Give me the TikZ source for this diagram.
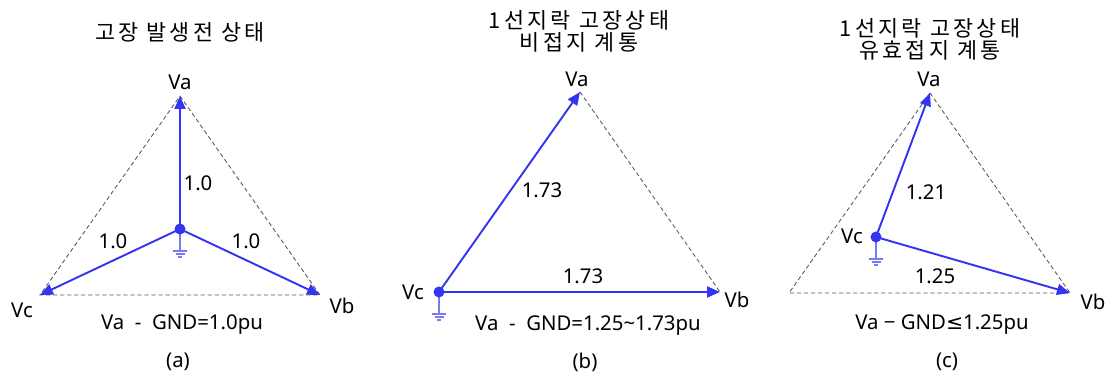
\documentclass[tikz,border=0pt]{standalone}
\usepackage{fontspec}
\setmainfont{Noto Sans}
\newfontfamily\kofont[LetterSpace=15]{Noto Sans CJK KR}
\newfontfamily\symfont{DejaVu Sans}
\usetikzlibrary{arrows.meta}

\begin{document}
\begin{tikzpicture}[
    x=0.02cm, y=-0.02cm,
    every node/.style={font=\fontsize{11.6}{13}\selectfont, inner sep=0pt},
    phasor/.style={phblue, line width=1.1pt, -{Triangle[length=2.6mm, width=2.2mm]}},
    rim/.style={rimgray, line width=0.5pt, dash pattern=on 2.4pt off 1.6pt},
    heading/.style={font=\kofont\fontsize{12.4}{12.6}\selectfont, align=center},
  ]
    \definecolor{phblue}{HTML}{3535F0}
    \definecolor{gndblue}{HTML}{7A7AF5}
    \definecolor{rimgray}{HTML}{5A5A5A}

    \useasboundingbox (0,0) rectangle (1109,377);

    \newcommand{\groundsym}[1]{%
      \draw[gndblue, line width=0.6pt] (#1) -- ++(0,22) coordinate (#1g);
      \draw[gndblue, line width=0.6pt] (#1g) ++(-7,0) -- ++(14,0)
        ++(-11.5,3) -- ++(9,0) ++(-6.5,3) -- ++(4,0);
      \fill[phblue] (#1) circle[radius=1.1mm];
    }

    % ---- panel (a): before fault ----
    \coordinate (aVa) at (180,96);
    \coordinate (aVb) at (320,295);
    \coordinate (aVc) at (40,295);
    \coordinate (aN) at (180,229);
    \node[heading] (atitle) at (180,32) {고장 발생전 상태};
    \draw[rim] (aVa) -- (aVb) -- (aVc) -- cycle;
    \groundsym{aN}
    \draw[phasor] (aN) -- (aVa);
    \draw[phasor] (aN) -- (aVb);
    \draw[phasor] (aN) -- (aVc);
    \fill[phblue] (aN) circle[radius=1mm];
    \node (aLa) at (180,82) {Va};
    \node (aLb) at (342,306) {Vb};
    \node (aLc) at (22,310) {Vc};
    \node (aMa) at (198,183) {1.0};
    \node (aMc) at (113,241) {1.0};
    \node (aMb) at (246,241) {1.0};
    \node (agnd) at (182,325) {Va\ \ -\ \ GND=1.0pu};
    \node (acap) at (178,362) {(a)};

    % ---- panel (b): ungrounded system ----
    \coordinate (bVa) at (580,92);
    \coordinate (bVb) at (720,292);
    \coordinate (bVc) at (439,292);
    \node[heading] (btitle) at (579,31) {1선지락 고장상태\\비접지 계통};
    \draw[rim] (bVa) -- (bVb);
    \groundsym{bVc}
    \draw[phasor] (bVc) -- (bVa);
    \draw[phasor] (bVc) -- (bVb);
    \node (bLa) at (577,79) {Va};
    \node (bLb) at (737,300) {Vb};
    \node (bLc) at (413,292) {Vc};
    \node (bMa) at (542,190) {1.73};
    \node (bMb) at (583,276) {1.73};
    \node (bgnd) at (588,326) {Va\ \ -\ \ GND=1.25\char`~1.73pu};
    \node (bcap) at (585,362) {(b)};

    % ---- panel (c): effectively grounded system ----
    \coordinate (cVa) at (930,93);
    \coordinate (cVb) at (1070,293);
    \coordinate (cVl) at (789,293);
    \coordinate (cVc) at (876,237);
    \node[heading] (ctitle) at (930,39) {1선지락 고장상태\\유효접지 계통};
    \draw[rim] (cVa) -- (cVb) -- (cVl) -- cycle;
    \groundsym{cVc}
    \draw[phasor] (cVc) -- (cVa);
    \draw[phasor] (cVc) -- (cVb);
    \node (cLa) at (929,79) {Va};
    \node (cLb) at (1093,302) {Vb};
    \node (cLc) at (852,236) {Vc};
    \node (cMa) at (926,192) {1.21};
    \node (cMb) at (935,276) {1.25};
    \node (cgnd) at (942,325) {Va\ − GND{\symfont ≤}1.25pu};
    \node (ccap) at (947,362) {(c)};
  \end{tikzpicture}
\end{document}
